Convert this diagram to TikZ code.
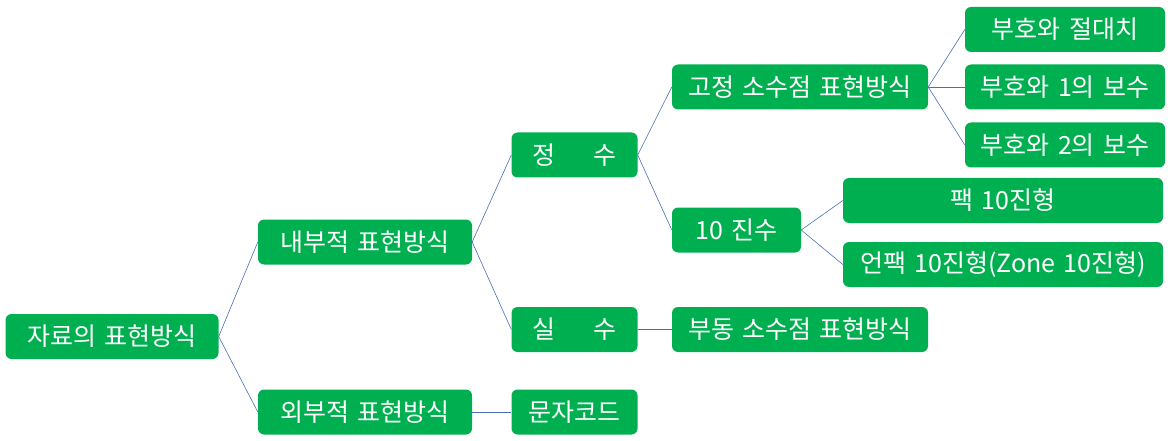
\documentclass[tikz,border=0pt]{standalone}
\usepackage{fontspec}
\setmainfont[WordSpace=1.5]{Noto Sans CJK KR}
\definecolor{boxgreen}{HTML}{00B050}
\definecolor{linkblue}{HTML}{4A6FB5}

\tikzstyle{item} = [rectangle, rounded corners=6pt, minimum height=45pt, inner sep=0pt, text centered, fill=boxgreen, text=white, font=\fontsize{25}{29}\selectfont]
\tikzstyle{link} = [draw=linkblue, line width=0.6pt]

\begin{document}
\begin{tikzpicture}[x=1pt, y=-1pt]
\useasboundingbox (0,0) rectangle (1173,441);

\node (root) [item, minimum width=213pt] at (112,336.5) {자료의 표현방식};
\node (inner) [item, minimum width=214pt] at (365,242) {내부적 표현방식};
\node (outer) [item, minimum width=214pt] at (365,412) {외부적 표현방식};
\node (integer) [item, minimum width=126pt] at (574.5,155) {정\hspace{1.5em}수};
\node (real) [item, minimum width=126pt] at (574.5,329.5) {실\hspace{1.5em}수};
\node (charcode) [item, minimum width=126pt] at (574.5,412) {문자코드};
\node (fixed) [item, minimum width=256pt] at (800,87) {고정 소수점 표현방식};
\node (decimal) [item, minimum width=129pt] at (736.5,230) {10 진수};
\node (float) [item, minimum width=256pt] at (800,329.5) {부동 소수점 표현방식};
\node (signmag) [item, minimum width=200pt] at (1065,29.5) {부호와 절대치};
\node (onecomp) [item, minimum width=200pt] at (1065,87) {부호와 1의 보수};
\node (twocomp) [item, minimum width=200pt] at (1065,145) {부호와 2의 보수};
\node (packed) [item, minimum width=320pt] at (1003,200.5) {팩 10진형};
\node (unpacked) [item, minimum width=320pt] at (1003,264.5) {언팩 10진형(Zone 10진형)};

\draw [link] (root.east) -- (inner.west);
\draw [link] (root.east) -- (outer.west);
\draw [link] (inner.east) -- (integer.west);
\draw [link] (inner.east) -- (real.west);
\draw [link] (outer.east) -- (charcode.west);
\draw [link] (integer.east) -- (fixed.west);
\draw [link] (integer.east) -- (decimal.west);
\draw [link] (real.east) -- (float.west);
\draw [link] (fixed.east) -- (signmag.west);
\draw [link] (fixed.east) -- (onecomp.west);
\draw [link] (fixed.east) -- (twocomp.west);
\draw [link] (decimal.east) -- (packed.west);
\draw [link] (decimal.east) -- (unpacked.west);
\end{tikzpicture}
\end{document}
